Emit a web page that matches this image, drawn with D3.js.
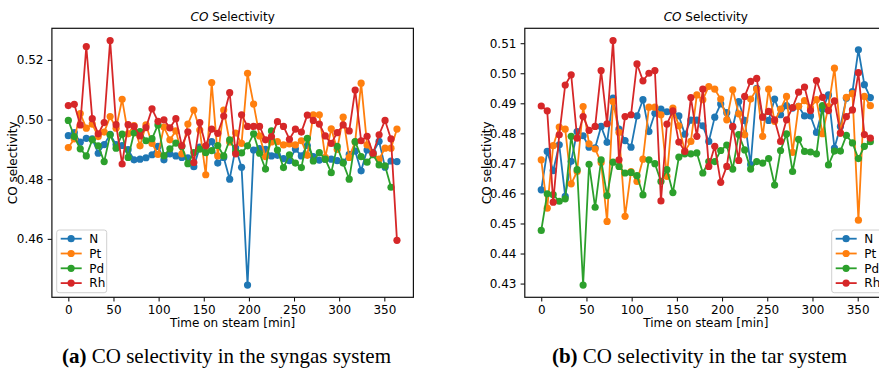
<!DOCTYPE html>
<html>
<head>
<meta charset="utf-8">
<script src="https://cdn.jsdelivr.net/npm/d3@7"></script>
<style>
  html, body { margin: 0; padding: 0; background: #fff; }
  svg { display: block; }
  .tick text { font-family: 'DejaVu Sans', sans-serif; font-size: 12px; fill: #000; }
  .tick line { stroke: #000; }
</style>
</head>
<body>
<div id="chart"></div>
<script>
// time on steam [min], one sample every ~6.6 min
const time = [0, 6.6, 13.2, 19.9, 26.5, 33.1, 39.7, 46.3, 52.9, 59.6,
  66.2, 72.8, 79.4, 86.0, 92.7, 99.3, 105.9, 112.5, 119.1, 125.7,
  132.4, 139.0, 145.6, 152.2, 158.8, 165.5, 172.1, 178.7, 185.3, 191.9,
  198.5, 205.2, 211.8, 218.4, 225.0, 231.6, 238.3, 244.9, 251.5, 258.1,
  264.7, 271.3, 278.0, 284.6, 291.2, 297.8, 304.4, 311.1, 317.7, 324.3,
  330.9, 337.5, 344.2, 350.8, 357.4, 364.0];

const seriesNames = ['N', 'Pt', 'Pd', 'Rh'];
const seriesColors = ['#1f77b4', '#ff7f0e', '#2ca02c', '#d62728'];

// (a) syngas system
const synN = [0.4946, 0.4956, 0.4924, 0.4937, 0.4935, 0.4887, 0.4916, 0.4950, 0.4916, 0.4913,
  0.4899, 0.4865, 0.4867, 0.4872, 0.4882, 0.4910, 0.4865, 0.4885, 0.4878, 0.4873,
  0.4872, 0.4842, 0.4908, 0.4893, 0.4926, 0.4854, 0.4873, 0.4800, 0.4905, 0.4840,
  0.4445, 0.4898, 0.4903, 0.4900, 0.4878, 0.4880, 0.4869, 0.4862, 0.4901, 0.4878,
  0.4913, 0.4876, 0.4864, 0.4867, 0.4867, 0.4862, 0.4857, 0.4883, 0.4894, 0.4828,
  0.4898, 0.4889, 0.4927, 0.4840, 0.4861, 0.4859];
const synPt = [0.4906, 0.4935, 0.5020, 0.4971, 0.4985, 0.4943, 0.4958, 0.5010, 0.4971, 0.5068,
  0.4952, 0.4980, 0.4912, 0.4982, 0.4920, 0.4883, 0.4975, 0.4932, 0.4962, 0.4885,
  0.4985, 0.5032, 0.4965, 0.4815, 0.5124, 0.4878, 0.5032, 0.4925, 0.4955, 0.4920,
  0.5155, 0.5052, 0.4945, 0.4876, 0.4925, 0.4926, 0.4915, 0.4918, 0.4915, 0.4929,
  0.4880, 0.5016, 0.5016, 0.4873, 0.4969, 0.4900, 0.5008, 0.4873, 0.4925, 0.5122,
  0.4915, 0.4885, 0.4867, 0.4904, 0.4904, 0.4968];
const synPd = [0.4997, 0.4943, 0.4902, 0.4878, 0.4932, 0.4912, 0.4859, 0.4949, 0.4904, 0.4951,
  0.4873, 0.4955, 0.4960, 0.4929, 0.4936, 0.4982, 0.4879, 0.4902, 0.4921, 0.4910,
  0.4852, 0.4889, 0.4901, 0.4889, 0.4896, 0.4913, 0.4878, 0.4932, 0.4893, 0.4888,
  0.4912, 0.4952, 0.4887, 0.4834, 0.4962, 0.4898, 0.4839, 0.4882, 0.4854, 0.4839,
  0.4937, 0.4861, 0.4889, 0.4867, 0.4822, 0.4910, 0.4854, 0.4800, 0.4926, 0.4876,
  0.4857, 0.4882, 0.4848, 0.4845, 0.4773];
const synRh = [0.5047, 0.5051, 0.4982, 0.5245, 0.5003, 0.4952, 0.4990, 0.5265, 0.4983, 0.4851,
  0.4983, 0.4977, 0.4945, 0.4973, 0.5036, 0.4994, 0.4999, 0.4972, 0.5003, 0.4912,
  0.4959, 0.4856, 0.4990, 0.4912, 0.4968, 0.4954, 0.5012, 0.5090, 0.4885, 0.5016,
  0.4977, 0.4977, 0.4977, 0.4932, 0.4943, 0.4993, 0.4977, 0.4934, 0.4968, 0.4958,
  0.5015, 0.4997, 0.4985, 0.4945, 0.4920, 0.4956, 0.4982, 0.4962, 0.5099, 0.4929,
  0.4944, 0.4887, 0.4949, 0.4997, 0.4935, 0.4595];

// (b) tar system
const tarN = [0.4612, 0.4740, 0.4676, 0.4762, 0.4590, 0.4707, 0.4806, 0.4792, 0.4754, 0.4752,
  0.4823, 0.4770, 0.4917, 0.4814, 0.4776, 0.4754, 0.4858, 0.4912, 0.4806, 0.4867,
  0.4881, 0.4872, 0.4869, 0.4858, 0.4797, 0.4844, 0.4844, 0.4825, 0.4773, 0.4854,
  0.4898, 0.4869, 0.4821, 0.4906, 0.4843, 0.4696, 0.4950, 0.4855, 0.4843, 0.4914,
  0.4862, 0.4892, 0.4884, 0.4890, 0.4858, 0.4858, 0.4803, 0.4880, 0.4928, 0.4751,
  0.4823, 0.4917, 0.4939, 0.5078, 0.4962, 0.4919];
const tarPt = [0.4712, 0.4551, 0.4759, 0.4821, 0.4814, 0.4632, 0.4673, 0.4889, 0.4765, 0.4748,
  0.4703, 0.4507, 0.4906, 0.4803, 0.4524, 0.4673, 0.4640, 0.4714, 0.4887, 0.4887,
  0.4862, 0.4657, 0.4884, 0.4825, 0.4740, 0.4773, 0.4928, 0.4912, 0.4956, 0.4947,
  0.4914, 0.4845, 0.4945, 0.4865, 0.4795, 0.4914, 0.4947, 0.4790, 0.4947, 0.4840,
  0.4881, 0.4923, 0.4737, 0.4890, 0.4909, 0.4885, 0.4912, 0.4799, 0.4889, 0.5017,
  0.4801, 0.4920, 0.4932, 0.4511, 0.4923, 0.4892];
const tarPd = [0.4477, 0.4599, 0.4596, 0.4574, 0.4582, 0.4790, 0.4679, 0.4295, 0.4697, 0.4554,
  0.4712, 0.4593, 0.4704, 0.4690, 0.4668, 0.4670, 0.4659, 0.4595, 0.4712, 0.4699,
  0.4640, 0.4679, 0.4603, 0.4721, 0.4732, 0.4732, 0.4735, 0.4668, 0.4706, 0.4706,
  0.4743, 0.4761, 0.4681, 0.4796, 0.4745, 0.4681, 0.4706, 0.4701, 0.4716, 0.4628,
  0.4743, 0.4798, 0.4673, 0.4780, 0.4740, 0.4738, 0.4732, 0.4892, 0.4695, 0.4741,
  0.4741, 0.4793, 0.4768, 0.4716, 0.4757, 0.4772];
const tarRh = [0.4891, 0.4875, 0.4571, 0.4795, 0.4961, 0.4995, 0.4784, 0.4856, 0.4810, 0.4823,
  0.5009, 0.4832, 0.5109, 0.4712, 0.4856, 0.4862, 0.5031, 0.4975, 0.5000, 0.5009,
  0.4575, 0.4831, 0.4875, 0.4771, 0.4740, 0.4919, 0.4790, 0.4947, 0.4690, 0.4757,
  0.4637, 0.4690, 0.4823, 0.4710, 0.4923, 0.4973, 0.4983, 0.4854, 0.4873, 0.4845,
  0.4773, 0.4845, 0.4886, 0.4937, 0.4954, 0.4876, 0.4976, 0.4920, 0.4876, 0.4908,
  0.4801, 0.4856, 0.4878, 0.5002, 0.4796, 0.4784];

const xTicks = [0, 50, 100, 150, 200, 250, 300, 350];
const synYTicks = [0.46, 0.48, 0.50, 0.52];
const tarYTicks = [0.43, 0.44, 0.45, 0.46, 0.47, 0.48, 0.49, 0.50, 0.51];

const width = 879;
const height = 368;
const plotTop = 28.3;
const plotBottom = 297.3;
const font = "'DejaVu Sans', sans-serif";

const svg = d3.select('#chart')
  .append('svg')
  .attr('width', width)
  .attr('height', height);

function drawPanel(p) {
  const g = svg.append('g');
  const [tMin, tMax] = d3.extent(time);
  const [vMin, vMax] = d3.extent(p.values.flat());
  const tPad = (tMax - tMin) * 0.05;
  const vPad = (vMax - vMin) * 0.05;

  const x = d3.scaleLinear().domain([tMin - tPad, tMax + tPad]).range([p.left, p.right]);
  const y = d3.scaleLinear().domain([vMin - vPad, vMax + vPad]).range([plotBottom, plotTop]);

  g.append('g')
    .attr('transform', `translate(0,${plotBottom})`)
    .call(d3.axisBottom(x).tickValues(xTicks).tickSize(4.2).tickPadding(3.5).tickFormat(d3.format('d')))
    .call((a) => a.select('.domain').remove());

  g.append('g')
    .attr('transform', `translate(${p.left},0)`)
    .call(d3.axisLeft(y).tickValues(p.yTicks).tickSize(4.2).tickPadding(4.2).tickFormat(d3.format('.2f')))
    .call((a) => a.select('.domain').remove());

  const line = d3.line()
    .x((d, i) => x(time[i]))
    .y((d) => y(d));

  p.values.forEach((vals, k) => {
    g.append('path')
      .datum(vals)
      .attr('fill', 'none')
      .attr('stroke', seriesColors[k])
      .attr('stroke-width', 1.8)
      .attr('stroke-linejoin', 'round')
      .attr('d', line);
    g.append('g')
      .attr('fill', seriesColors[k])
      .selectAll('circle')
      .data(vals)
      .join('circle')
      .attr('cx', (d, i) => x(time[i]))
      .attr('cy', (d) => y(d))
      .attr('r', 3.6);
  });

  g.append('rect')
    .attr('x', p.left)
    .attr('y', plotTop)
    .attr('width', p.right - p.left)
    .attr('height', plotBottom - plotTop)
    .attr('fill', 'none')
    .attr('stroke', '#111')
    .attr('stroke-width', 1.2);

  const cx = (p.left + p.right) / 2;

  const title = g.append('text')
    .attr('x', cx)
    .attr('y', 21)
    .attr('text-anchor', 'middle')
    .attr('font-family', font)
    .attr('font-size', 12);
  title.append('tspan').attr('font-style', 'italic').text('CO');
  title.append('tspan').text(' Selectivity');

  g.append('text')
    .attr('x', cx)
    .attr('y', 327.3)
    .attr('text-anchor', 'middle')
    .attr('font-family', font)
    .attr('font-size', 12)
    .text('Time on steam [min]');

  g.append('text')
    .attr('transform', `translate(${p.ylabelX},${(plotTop + plotBottom) / 2}) rotate(-90)`)
    .attr('text-anchor', 'middle')
    .attr('font-family', font)
    .attr('font-size', 12)
    .text('CO selectivity');

  // legend
  const lg = g.append('g').attr('transform', `translate(${p.legendX},230)`);
  lg.append('rect')
    .attr('width', 50)
    .attr('height', 62.7)
    .attr('rx', 2.5)
    .attr('fill', '#fff')
    .attr('fill-opacity', 0.8)
    .attr('stroke', '#d0d0d0');
  seriesNames.forEach((name, k) => {
    const ry = 8.7 + k * 14.8;
    lg.append('line')
      .attr('x1', 4).attr('x2', 25)
      .attr('y1', ry).attr('y2', ry)
      .attr('stroke', seriesColors[k])
      .attr('stroke-width', 1.8);
    lg.append('circle')
      .attr('cx', 14.4).attr('cy', ry).attr('r', 3.6)
      .attr('fill', seriesColors[k]);
    lg.append('text')
      .attr('x', 32.6).attr('y', ry).attr('dy', '0.36em')
      .attr('font-family', font)
      .attr('font-size', 12)
      .text(name);
  });

  const cap = svg.append('text')
    .attr('x', p.captionX)
    .attr('y', 363)
    .attr('text-anchor', 'middle')
    .attr('font-family', "'Liberation Serif', 'Times New Roman', serif")
    .attr('font-size', 21);
  cap.append('tspan').attr('font-weight', 'bold').text(p.captionTag);
  cap.append('tspan').text(' ' + p.caption);
}

drawPanel({
  left: 51.9, right: 413.4,
  values: [synN, synPt, synPd, synRh],
  yTicks: synYTicks,
  ylabelX: 17.2,
  legendX: 56.7,
  captionX: 226.5,
  captionTag: '(a)',
  caption: 'CO selectivity in the syngas system',
});

drawPanel({
  left: 524.8, right: 886.8,
  values: [tarN, tarPt, tarPd, tarRh],
  yTicks: tarYTicks,
  ylabelX: 490.8,
  legendX: 831.7,
  captionX: 699.5,
  captionTag: '(b)',
  caption: 'CO selectivity in the tar system',
});
</script>
</body>
</html>
